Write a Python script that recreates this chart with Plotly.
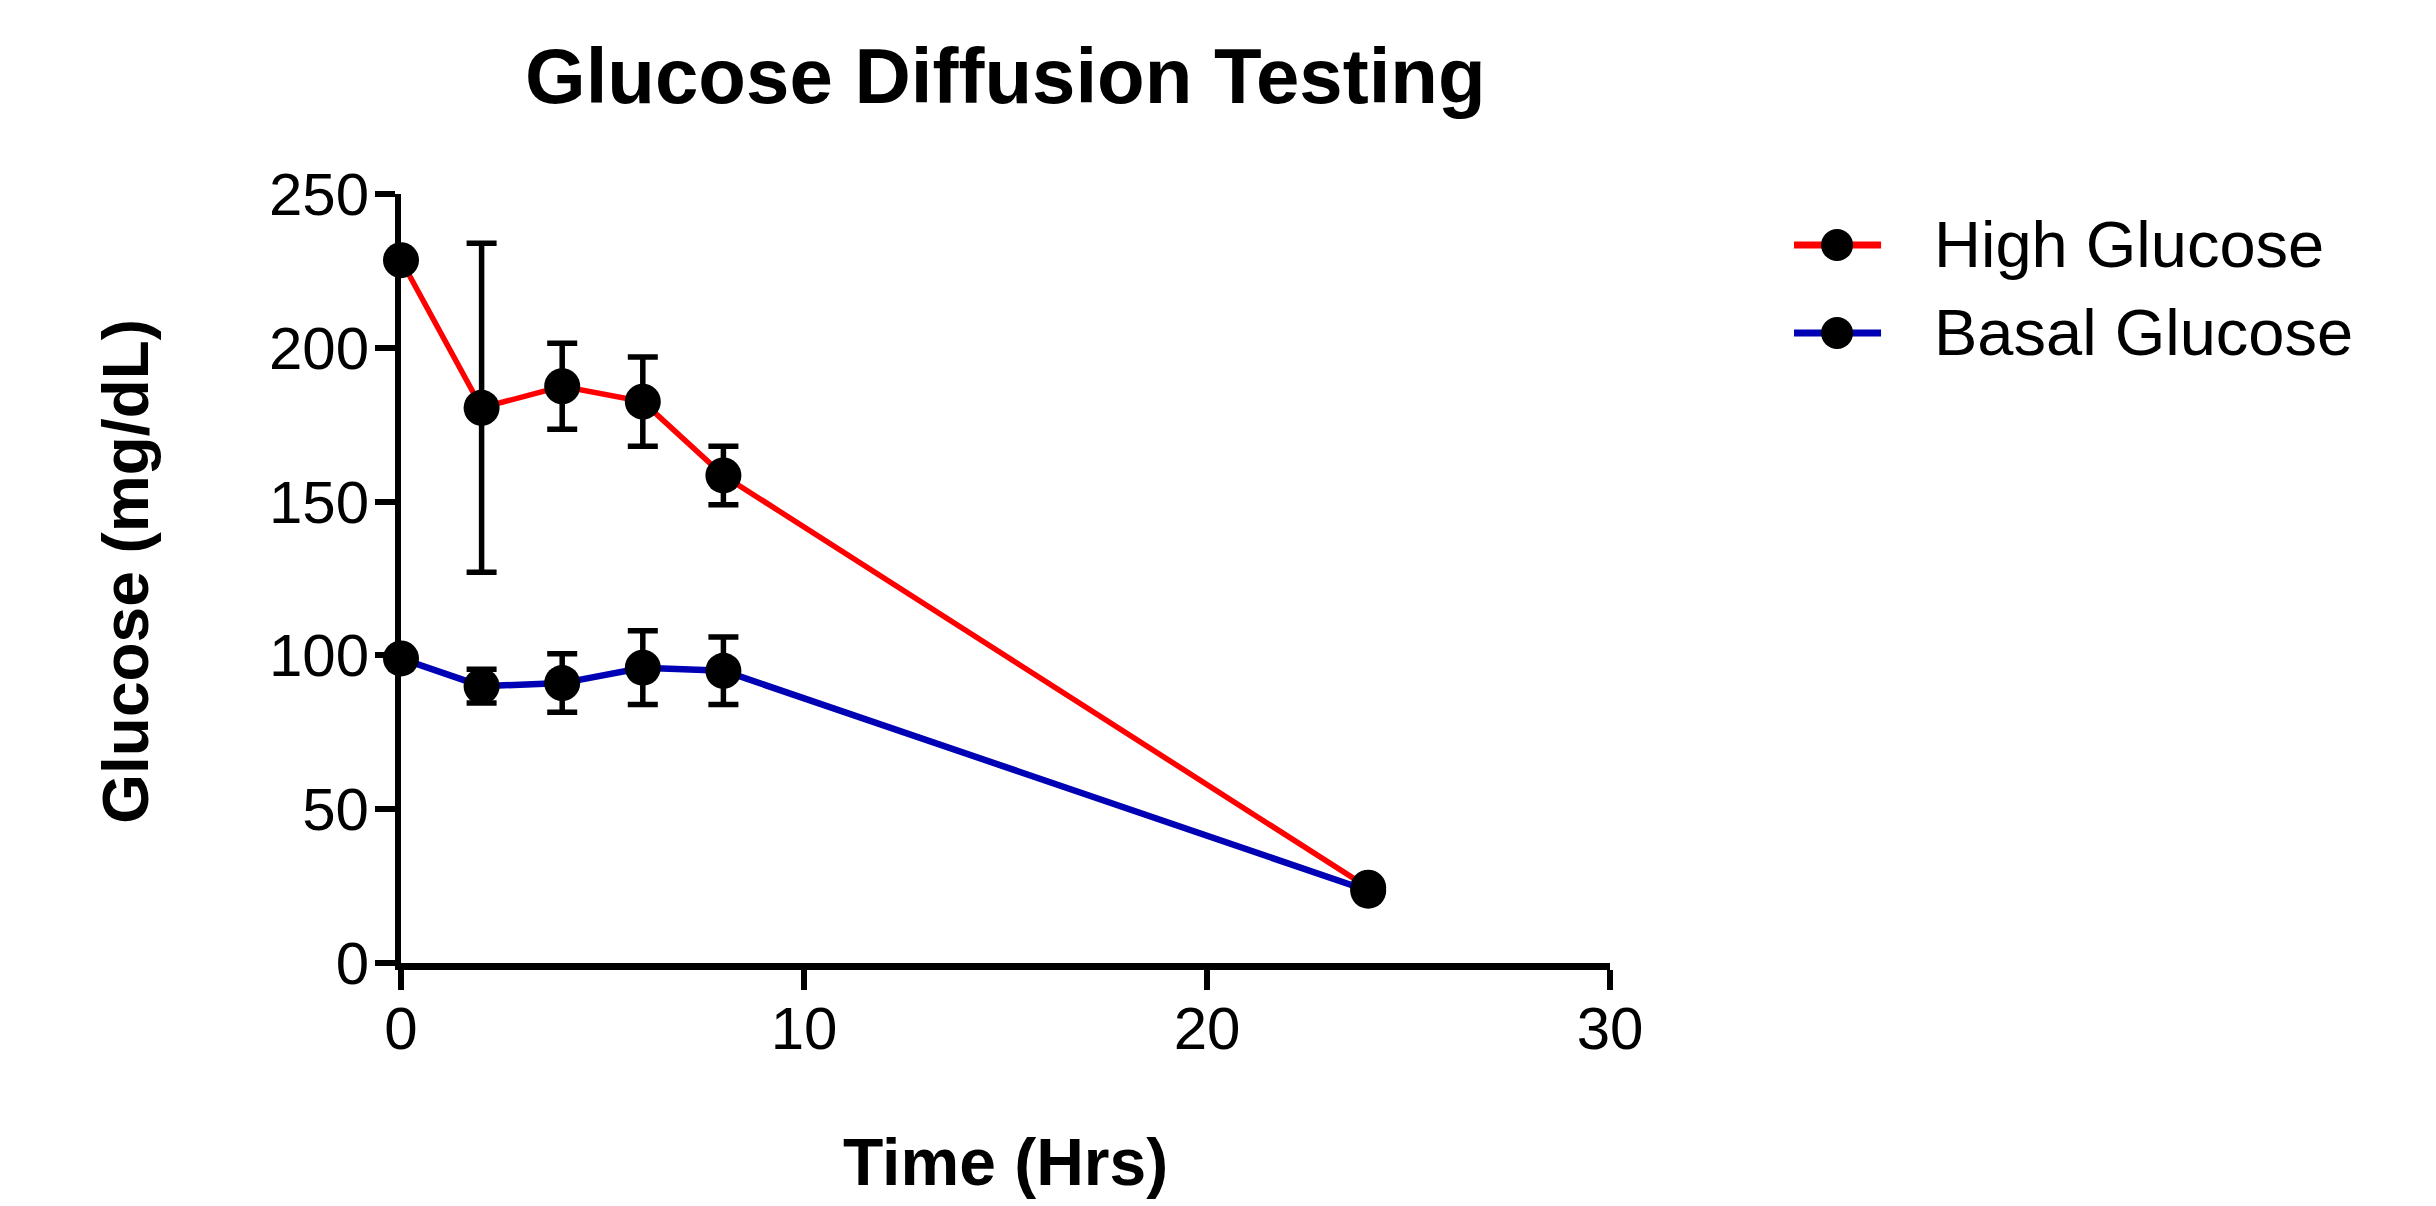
import plotly.graph_objects as go

# ---- data ----
time_hrs = [0, 2, 4, 6, 8, 24]
high_glucose = [228.5, 180.5, 187.5, 182.5, 158.5, 24.5]
high_err = [0, 53.5, 14, 14.5, 9.5, 0]
basal_glucose = [99, 90, 91, 96, 95, 23.5]
basal_err = [0, 5.5, 9.5, 12, 11, 0]

x_ticks = [0, 10, 20, 30]
y_ticks = [0, 50, 100, 150, 200, 250]

title_text = "Glucose Diffusion Testing"
x_title = "Time (Hrs)"
y_title = "Glucose (mg/dL)"

FONT = "Arial, 'Liberation Sans', Helvetica, sans-serif"

series = [
    ("High Glucose", high_glucose, high_err, "#FF0000", 5.5),
    ("Basal Glucose", basal_glucose, basal_err, "#0000B4", 6.5),
]

fig = go.Figure()
for name, vals, err, col, lw in series:
    fig.add_trace(go.Scatter(
        x=time_hrs, y=vals, name=name, mode="lines+markers",
        line=dict(color=col, width=lw),
        marker=dict(color="black", size=36, line=dict(width=0)),
        error_y=dict(type="data", array=err, visible=True, color="black",
                     thickness=5.5, width=15),
        cliponaxis=False, showlegend=False,
    ))

# ---- custom legend (long line segment with large marker) ----
LEG_X0, LEG_X1, LEG_XM, LEG_TX = 1.1522, 1.2242, 1.1878, 1.2663
LEG_Y = [0.9337, 0.8193]
shapes = []
annotations = []
for (name, vals, err, col, lw), ly in zip(series, LEG_Y):
    shapes.append(dict(type="line", xref="paper", yref="paper",
                       x0=LEG_X0, x1=LEG_X1, y0=ly, y1=ly,
                       line=dict(color=col, width=7), layer="above"))
    shapes.append(dict(type="circle", xref="paper", yref="paper",
                       xsizemode="pixel", ysizemode="pixel",
                       xanchor=LEG_XM, yanchor=ly,
                       x0=-16, x1=16, y0=-16, y1=16,
                       fillcolor="black", line=dict(width=0), layer="above"))
    annotations.append(dict(text=name, x=LEG_TX, y=ly, xref="paper", yref="paper",
                            xanchor="left", yanchor="middle", showarrow=False,
                            font=dict(family=FONT, size=65, color="black")))

annotations += [
    dict(text=title_text, x=0.5, y=1.153, xref="paper", yref="paper",
         xanchor="center", yanchor="middle", showarrow=False,
         font=dict(family=FONT, size=78, color="black", weight="bold")),
    dict(text=x_title, x=0.5, y=-0.259, xref="paper", yref="paper",
         xanchor="center", yanchor="middle", showarrow=False,
         font=dict(family=FONT, size=66, color="black", weight="bold")),
    dict(text=y_title, x=-0.2275, y=0.51, xref="paper", yref="paper",
         xanchor="center", yanchor="middle", showarrow=False, textangle=-90,
         font=dict(family=FONT, size=64, color="black", weight="bold")),
]

axis_font = dict(family=FONT, size=60, color="black")

fig.update_layout(
    width=2436, height=1206,
    margin=dict(l=393, r=834, t=186, b=251),
    paper_bgcolor="white", plot_bgcolor="white",
    showlegend=False,
    shapes=shapes,
    annotations=annotations,
    xaxis=dict(
        range=[0, 30], tickvals=x_ticks, ticktext=[str(v) for v in x_ticks],
        showgrid=False, zeroline=False, showline=True, linecolor="black",
        linewidth=7, ticks="outside", ticklen=20, tickwidth=6, tickcolor="black",
        tickfont=axis_font, ticklabelstandoff=-13,
    ),
    yaxis=dict(
        range=[0, 250], tickvals=y_ticks, ticktext=[str(v) for v in y_ticks],
        showgrid=False, zeroline=False, showline=True, linecolor="black",
        linewidth=6, ticks="outside", ticklen=20, tickwidth=6, tickcolor="black",
        tickfont=axis_font, ticklabelstandoff=-6,
    ),
)

fig.write_html("out.html")
